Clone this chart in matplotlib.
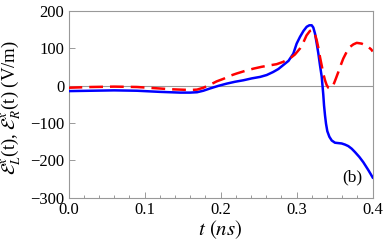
import numpy as np
import matplotlib
matplotlib.use("Agg")
import matplotlib.pyplot as plt
from matplotlib.ticker import MultipleLocator

plt.rcParams['font.family'] = ['Liberation Serif', 'DejaVu Serif']
plt.rcParams['mathtext.fontset'] = 'stix'

# values
t_L = [0.0, 0.03, 0.06, 0.09, 0.12, 0.1335, 0.147, 0.1598, 0.169, 0.1773, 0.186,
       0.197, 0.208, 0.219, 0.230, 0.2409, 0.252, 0.2606, 0.269, 0.2759, 0.282,
       0.2893, 0.2956, 0.300, 0.3044, 0.309, 0.3132, 0.3167, 0.3198, 0.3219,
       0.3241, 0.3264, 0.3285, 0.3307, 0.333, 0.335, 0.336, 0.3373, 0.3386,
       0.3403, 0.343, 0.3461, 0.3504, 0.3548, 0.3592, 0.3636, 0.3679, 0.3724,
       0.3767, 0.3824, 0.3876, 0.3942, 0.400]
E_L = [-15, -14, -13, -14, -17, -18, -19, -19, -18, -14, -8,
       -1, 5, 10, 14, 19, 23, 28, 36, 44, 54,
       66, 85, 112, 130, 146, 157, 161, 161, 155,
       139, 112, 86, 54, 23, -24, -53, -80, -102,
       -122, -137, -147, -153, -154, -155, -158, -162, -169,
       -178, -191, -205, -226, -246]

t_R = [0.0, 0.03, 0.06, 0.09, 0.12, 0.1335, 0.147, 0.1598, 0.169, 0.1773, 0.186,
       0.1948, 0.204, 0.2124, 0.221, 0.2321, 0.243, 0.254, 0.265, 0.2737, 0.282,
       0.291, 0.2978, 0.3044, 0.3088, 0.313, 0.3175, 0.321, 0.3241, 0.3264,
       0.3285, 0.3307, 0.3329, 0.335, 0.3373, 0.3395, 0.3417, 0.3438, 0.3461,
       0.348, 0.3513, 0.3548, 0.3579, 0.3613, 0.3658, 0.370, 0.3746, 0.379,
       0.3855, 0.3899, 0.394, 0.3978, 0.400]
E_R = [-6, -4, -3, -4, -8, -10, -11, -12, -11, -6, 2,
       11, 18, 26, 32, 39, 45, 50, 54, 57, 63,
       72, 83, 99, 115, 134, 146, 148, 137, 121,
       101, 76, 54, 32, 14, 1, -6, -8, -5,
       0, 17, 36, 54, 72, 90, 103, 110, 114,
       112, 108, 103, 97, 91]

gray = '#999999'

fig = plt.figure(figsize=(3.85, 2.5), dpi=100)
ax = fig.add_axes([68.5 / 385, 1 - 197.7 / 250, (372.7 - 68.5) / 385, (197.7 - 10.7) / 250])

ax.axhline(0, color=gray, lw=0.8, zorder=1)
ax.plot(t_L, E_L, color='#0000ff', lw=1.8, zorder=3, solid_joinstyle='round')
ax.plot(t_R, E_R, color='#ff0000', lw=1.8, dashes=(5.5, 2.8), zorder=4)

ax.set_xlim(0, 0.4)
ax.set_ylim(-300, 200)
ax.xaxis.set_major_locator(MultipleLocator(0.1))
ax.xaxis.set_minor_locator(MultipleLocator(0.02))
ax.yaxis.set_major_locator(MultipleLocator(100))
ax.set_xticklabels([f'{v:.1f}' for v in ax.get_xticks()])

for s in ax.spines.values():
    s.set_color(gray)
    s.set_linewidth(0.8)
ax.tick_params(which='both', direction='in', color=gray, labelsize=12, width=0.7)
ax.tick_params(which='major', length=4, pad=3)
ax.tick_params(which='minor', length=2.5)

ax.set_xlabel(r'$t$ $(ns)$', fontsize=15)
ax.xaxis.set_label_coords(0.5, -0.112)
ax.set_ylabel(r'$\mathcal{E}^x_L$(t), $\mathcal{E}^x_R$(t) (V/m)', fontsize=13.5)
ax.yaxis.set_label_coords(-0.15, 0.48)
ax.text(0.965, 0.108, '(b)', transform=ax.transAxes, fontsize=12.5, ha='right', va='center')

fig.savefig('out.png', dpi=100)
